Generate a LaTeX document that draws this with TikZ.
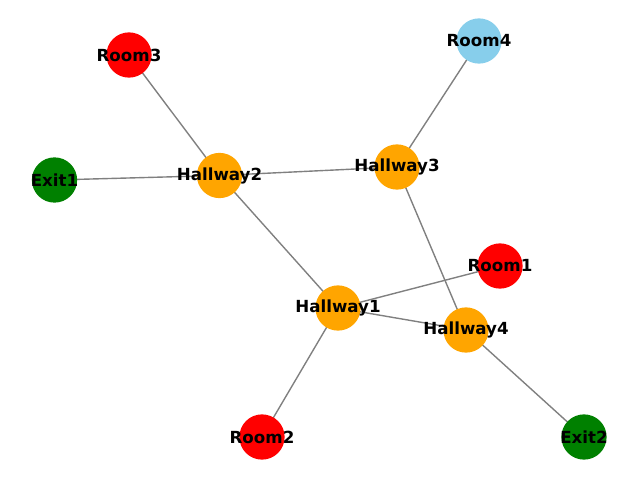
\documentclass[tikz,border=0pt]{standalone}
\usepackage{fontspec}
\newfontfamily\labelfont{DejaVu Sans}
\usepackage{xcolor}
\usetikzlibrary{positioning, backgrounds}
\definecolor{hallorange}{HTML}{FFA500}
\definecolor{roomred}{HTML}{FF0000}
\definecolor{exitgreen}{HTML}{008000}
\definecolor{skyblue}{HTML}{87CEEB}

\begin{document}
\begin{tikzpicture}[x=0.72pt, y=-0.72pt, vertex/.style={circle, minimum size=32.6pt, inner sep=0pt}, every label/.style={font=\labelfont\bfseries\fontsize{12}{14}\selectfont, inner sep=0pt}, edge/.style={draw=gray, line width=1bp}]
  \useasboundingbox (0,0) rectangle (640,480);
  \node[vertex, fill=hallorange, label=center:Hallway1] (hallway1) at (338,308) {};
  \node[vertex, fill=hallorange, label=center:Hallway2] (hallway2) at (219.5,175.5) {};
  \node[vertex, fill=hallorange, label=center:Hallway3] (hallway3) at (397,167) {};
  \node[vertex, fill=hallorange, label=center:Hallway4] (hallway4) at (466,330) {};
  \node[vertex, fill=roomred, label=center:Room1] (room1) at (500,266) {};
  \node[vertex, fill=roomred, label=center:Room2] (room2) at (262,437) {};
  \node[vertex, fill=roomred, label=center:Room3] (room3) at (129,55) {};
  \node[vertex, fill=skyblue, label=center:Room4] (room4) at (479,41) {};
  \node[vertex, fill=exitgreen, label=center:Exit1] (exit1) at (54.5,180) {};
  \node[vertex, fill=exitgreen, label=center:Exit2] (exit2) at (584,437) {};
  \begin{scope}[on background layer]
    \draw[edge] (room3.center) -- (hallway2.center);
    \draw[edge] (exit1.center) -- (hallway2.center);
    \draw[edge] (hallway2.center) -- (hallway3.center);
    \draw[edge] (hallway3.center) -- (room4.center);
    \draw[edge] (hallway2.center) -- (hallway1.center);
    \draw[edge] (hallway3.center) -- (hallway4.center);
    \draw[edge] (hallway1.center) -- (room1.center);
    \draw[edge] (hallway1.center) -- (hallway4.center);
    \draw[edge] (hallway1.center) -- (room2.center);
    \draw[edge] (hallway4.center) -- (exit2.center);
  \end{scope}
\end{tikzpicture}
\end{document}
